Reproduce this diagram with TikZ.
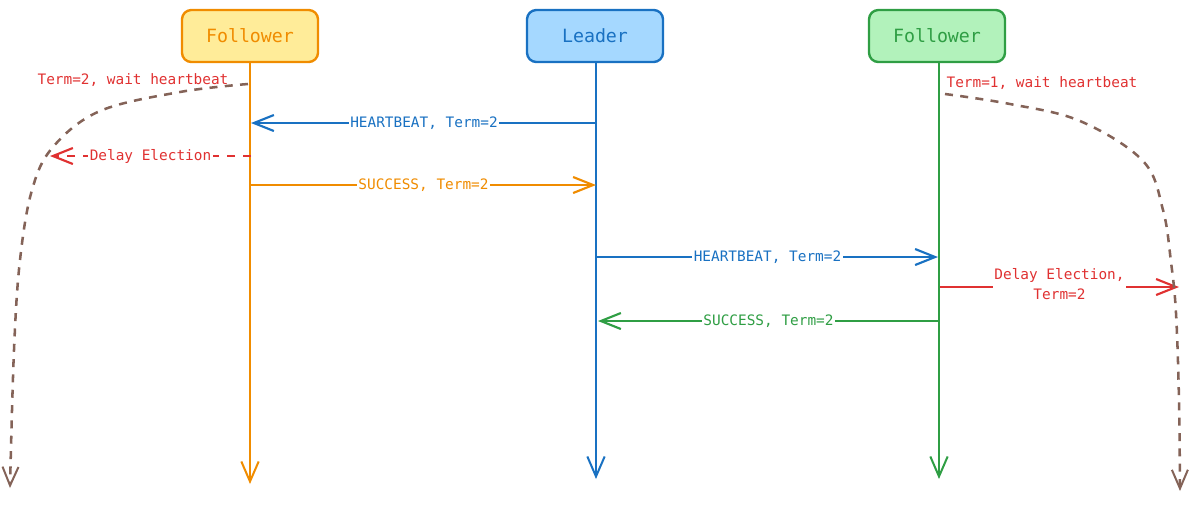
\documentclass[tikz,border=0pt]{standalone}
\usepackage{fontspec}
\setmonofont{DejaVu Sans Mono}
\usetikzlibrary{arrows.meta}
\definecolor{yelfill}{HTML}{FFEC99}
\definecolor{orng}{HTML}{F08C00}
\definecolor{bluefill}{HTML}{A5D8FF}
\definecolor{blu}{HTML}{1971C2}
\definecolor{grnfill}{HTML}{B2F2BB}
\definecolor{grn}{HTML}{2F9E44}
\definecolor{rd}{HTML}{E03131}
\definecolor{brn}{HTML}{846358}
\tikzset{
  actor/.style={draw, line width=1.8pt, rounded corners=7pt, minimum width=102pt, minimum height=39pt, font=\ttfamily\fontsize{13.7}{15}\selectfont},
  life/.style={line width=1.5pt, -{Straight Barb[length=15pt,width=13pt,line width=1.5pt]}},
  msg/.style={line width=1.7pt, -{Straight Barb[length=15pt,width=12pt,line width=1.6pt]}},
  lbl/.style={fill=white, inner sep=1pt, font=\ttfamily\fontsize{10.8}{14}\selectfont},
  note/.style={font=\ttfamily\fontsize{10.8}{12}\selectfont, text=rd, inner sep=0pt},
  wait/.style={brn, line width=1.9pt, dash pattern=on 6pt off 5.5pt, -{Straight Barb[length=14pt,width=12pt,line width=1.5pt]}}
}
\begin{document}
\begin{tikzpicture}[x=0.75pt, y=-0.75pt]
\useasboundingbox (0,0) rectangle (1190,508);
% actors
\node[actor, fill=yelfill, draw=orng, text=orng] (f1) at (250,36) {Follower};
\node[actor, fill=bluefill, draw=blu, text=blu] (ld) at (595,36) {Leader};
\node[actor, fill=grnfill, draw=grn, text=grn] (f2) at (937,36) {Follower};
% lifeline ends
\coordinate (f1end) at (250,484);
\coordinate (ldend) at (596,479);
\coordinate (f2end) at (939,479);
\draw[life, orng] (f1.south) -- (f1end);
\draw[life, blu] (ld.south -| ldend) -- (ldend);
\draw[life, grn] (f2.south -| f2end) -- (f2end);
% notes
\node[note] (n1) at (133,80) {Term=2, wait heartbeat};
\node[note] (n2) at (1042,83) {Term=1, wait heartbeat};
% message coordinates
\coordinate (ldA) at (597,123);
\coordinate (f1A) at (251,123);
\coordinate (f1B) at (251,156);
\coordinate (dl1) at (50,156);
\coordinate (f1C) at (251,185);
\coordinate (ldC) at (596,185);
\coordinate (ldD) at (597,257);
\coordinate (f2D) at (938,257);
\coordinate (f2E) at (940,287);
\coordinate (dl2) at (1179,287);
\coordinate (f2F) at (939,321);
\coordinate (ldF) at (598,321);
\draw[msg, blu] (ldA) -- node[lbl, text=blu] {HEARTBEAT, Term=2} (f1A);
\draw[msg, rd, dash pattern=on 6pt off 6pt] (f1B) -- node[lbl, text=rd, pos=0.5] {Delay Election} (dl1);
\draw[msg, orng] (f1C) -- node[lbl, text=orng] {SUCCESS, Term=2} (ldC);
\draw[msg, blu] (ldD) -- node[lbl, text=blu] {HEARTBEAT, Term=2} (f2D);
\draw[msg, rd] (f2E) -- node[lbl, text=rd, align=center, pos=0.5, yshift=2pt, font=\ttfamily\fontsize{10.8}{15}\selectfont] {Delay Election,\\Term=2} (dl2);
\draw[msg, grn] (f2F) -- node[lbl, text=grn] {SUCCESS, Term=2} (ldF);
% waiting curves
\draw[wait] plot[smooth, tension=0.6] coordinates {(248,84) (180,92) (100,111) (53,147) (32,190) (20,260) (14,350) (10,488)};
\draw[wait] plot[smooth, tension=0.6] coordinates {(945,94) (1010,104) (1080,121) (1143,161) (1163,210) (1171,262) (1176,313) (1179,400) (1180,491)};
\end{tikzpicture}
\end{document}
